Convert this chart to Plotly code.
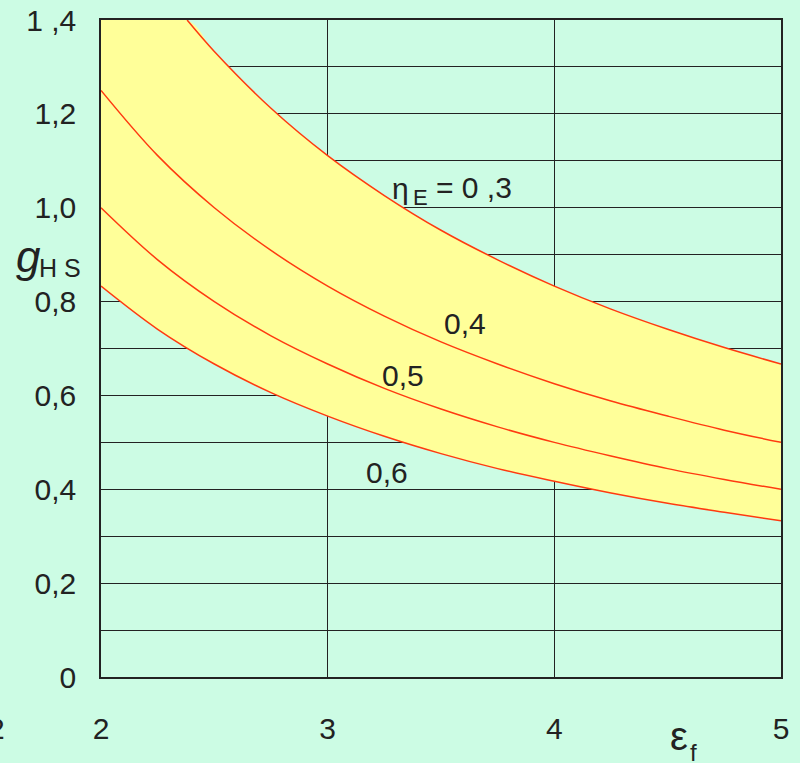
import plotly.graph_objects as go

# ---- data ----
eps = [2.0, 2.25, 2.5, 2.75, 3.0, 3.25, 3.5, 3.75, 4.0, 4.25, 4.5, 4.75, 5.0]
eps_03 = [2.38, 2.5, 2.75, 3.0, 3.25, 3.5, 3.75, 4.0, 4.25, 4.5, 4.75, 5.0]
g_03 = [1.40, 1.333, 1.212, 1.111, 1.026, 0.952, 0.889, 0.833, 0.784, 0.741, 0.702, 0.667]
g_04 = [1.25, 1.111, 1.0, 0.909, 0.833, 0.769, 0.714, 0.667, 0.625, 0.588, 0.556, 0.526, 0.50]
g_05 = [1.0, 0.889, 0.80, 0.727, 0.667, 0.615, 0.571, 0.533, 0.50, 0.471, 0.444, 0.421, 0.40]
g_06 = [0.833, 0.741, 0.667, 0.606, 0.556, 0.513, 0.476, 0.444, 0.417, 0.392, 0.370, 0.351, 0.333]

y_tickvals = [0, 0.2, 0.4, 0.6, 0.8, 1.0, 1.2, 1.4]
y_ticktext = ["0", "0,2", "0,4", "0,6", "0,8", "1,0", "1,2", "1 ,4"]
x_tickvals = [2, 3, 4, 5]
x_ticktext = ["2", "3", "4", "5"]

BG = "#CCFCE4"
YEL = "#FFFF99"
RED = "#FF3A10"
INK = "#222222"
FONT = "Liberation Sans, Arial, sans-serif"
FS = 30

fig = go.Figure()

# yellow band between eta=0.6 and eta=0.3 (capped at the top of the axis)
fig.add_trace(go.Scatter(x=eps, y=g_06, mode="lines", line=dict(width=0, shape="spline"),
                         hoverinfo="skip", showlegend=False))
fig.add_trace(go.Scatter(x=[2.0] + eps_03, y=[1.4] + g_03, mode="lines",
                         line=dict(width=0, shape="spline"), fill="tonexty",
                         fillcolor=YEL, hoverinfo="skip", showlegend=False))

for xs, ys in [(eps_03, g_03), (eps, g_04), (eps, g_05), (eps, g_06)]:
    fig.add_trace(go.Scatter(x=xs, y=ys, mode="lines",
                             line=dict(color=RED, width=1.5, shape="spline"),
                             showlegend=False))

W, H = 800, 763
L, R, T, B = 101, 19, 20, 86
pw, ph = W - L - R, H - T - B


def px(xp):
    return (xp - L) / pw


def py(yp):
    return (H - B - yp) / ph


fig.update_layout(
    width=W, height=H,
    margin=dict(l=L, r=R, t=T, b=B, autoexpand=False),
    paper_bgcolor=BG, plot_bgcolor=BG,
    font=dict(family=FONT, size=FS, color=INK),
    xaxis=dict(range=[2, 5], tickvals=x_tickvals, ticktext=x_ticktext,
               showgrid=True, gridcolor=INK, gridwidth=1.2, automargin=False,
               showline=True, linecolor=INK, linewidth=1.5, mirror=True,
               ticks="", ticklabelstandoff=24, zeroline=False,
               tickfont=dict(size=FS, color=INK)),
    yaxis=dict(range=[0, 1.4], tickvals=y_tickvals, ticktext=y_ticktext,
               showgrid=True, gridcolor=INK, gridwidth=1.2, automargin=False,
               minor=dict(dtick=0.1, tick0=0, showgrid=True, gridcolor=INK, gridwidth=1.2),
               showline=True, linecolor=INK, linewidth=1.5, mirror=True,
               ticks="", ticklabelstandoff=17, zeroline=False,
               tickfont=dict(size=FS, color=INK)),
)

ann = []


def add(text, x, y, size, italic=False, xanchor="center"):
    t = "<i>%s</i>" % text if italic else text
    ann.append(dict(text=t, x=px(x), y=py(y), xref="paper", yref="paper",
                    xanchor=xanchor, yanchor="middle", showarrow=False,
                    font=dict(family=FONT, size=size, color=INK)))


# y-axis title g_HS
add("g", 28, 256, 44, italic=True)
add("H S", 60, 268, 25)
# x-axis title epsilon_f
add("ε", 679, 736, 40)
add("f", 693, 752, 24)
# cut-off tick label at far left
add("2", -3, 728, FS)
# curve labels
add("η", 400, 188, 30)
add("E", 420, 197, 22)
add("= 0 ,3", 474, 187, FS)
add("0,4", 465, 323, FS)
add("0,5", 403, 375, FS)
add("0,6", 387, 472, FS)

fig.update_layout(annotations=ann)
fig.write_html("out.html", config={"displayModeBar": False},
               post_script="document.body.style.margin='0';document.body.style.overflow='hidden';")
